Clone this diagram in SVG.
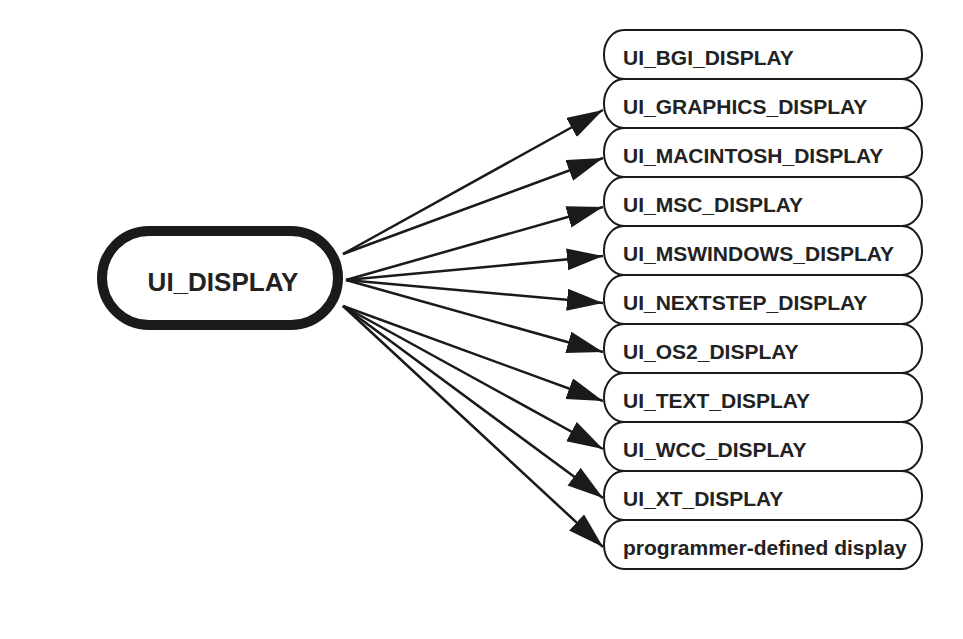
<svg xmlns="http://www.w3.org/2000/svg" width="963" height="639" viewBox="0 0 963 639">
<style>
.box{fill:#fff;stroke:#1a1a1a;stroke-width:2}
.lbl{font-family:"Liberation Sans",Arial,sans-serif;font-weight:bold;font-size:21px;fill:#222}
.main{fill:#fff;stroke:#1a1a1a;stroke-width:10}
.mlbl{font-family:"Liberation Sans",Arial,sans-serif;font-weight:bold;font-size:26px;fill:#222}
.edge{stroke:#1a1a1a;stroke-width:2.5;fill:none;marker-end:url(#ah)}
</style>
<defs>
<marker id="ah" markerUnits="userSpaceOnUse" markerWidth="38" markerHeight="24" refX="36" refY="11" orient="auto">
<path d="M0,0 L36,11 L0,22 Z" fill="#1a1a1a"/>
</marker>
</defs>
<rect width="963" height="639" fill="#fff"/>
<g id="connectors">
<line class="edge" x1="343" y1="254" x2="603" y2="110"/>
<line class="edge" x1="343" y1="254" x2="603" y2="158"/>
<line class="edge" x1="346" y1="280" x2="603" y2="207"/>
<line class="edge" x1="346" y1="280" x2="603" y2="256"/>
<line class="edge" x1="346" y1="280" x2="603" y2="303"/>
<line class="edge" x1="346" y1="280" x2="603" y2="352"/>
<line class="edge" x1="343" y1="306" x2="603" y2="401"/>
<line class="edge" x1="343" y1="306" x2="603" y2="449"/>
<line class="edge" x1="343" y1="306" x2="603" y2="498"/>
<line class="edge" x1="343" y1="306" x2="603" y2="547"/>
</g>
<g id="ui_display">
<rect class="main" x="102" y="231" width="236" height="94" rx="47" ry="47"/>
<text class="mlbl" x="223" y="291" text-anchor="middle">UI_DISPLAY</text>
</g>
<g id="bgi"><rect class="box" x="604" y="30" width="318" height="49" rx="20" ry="24"/><text class="lbl" x="623" y="65">UI_BGI_DISPLAY</text></g>
<g id="graphics"><rect class="box" x="604" y="79" width="318" height="49" rx="20" ry="24"/><text class="lbl" x="623" y="114">UI_GRAPHICS_DISPLAY</text></g>
<g id="macintosh"><rect class="box" x="604" y="128" width="318" height="49" rx="20" ry="24"/><text class="lbl" x="623" y="163">UI_MACINTOSH_DISPLAY</text></g>
<g id="msc"><rect class="box" x="604" y="177" width="318" height="49" rx="20" ry="24"/><text class="lbl" x="623" y="212">UI_MSC_DISPLAY</text></g>
<g id="mswindows"><rect class="box" x="604" y="226" width="318" height="49" rx="20" ry="24"/><text class="lbl" x="623" y="261">UI_MSWINDOWS_DISPLAY</text></g>
<g id="nextstep"><rect class="box" x="604" y="275" width="318" height="49" rx="20" ry="24"/><text class="lbl" x="623" y="310">UI_NEXTSTEP_DISPLAY</text></g>
<g id="os2"><rect class="box" x="604" y="324" width="318" height="49" rx="20" ry="24"/><text class="lbl" x="623" y="359">UI_OS2_DISPLAY</text></g>
<g id="text"><rect class="box" x="604" y="373" width="318" height="49" rx="20" ry="24"/><text class="lbl" x="623" y="408">UI_TEXT_DISPLAY</text></g>
<g id="wcc"><rect class="box" x="604" y="422" width="318" height="49" rx="20" ry="24"/><text class="lbl" x="623" y="457">UI_WCC_DISPLAY</text></g>
<g id="xt"><rect class="box" x="604" y="471" width="318" height="49" rx="20" ry="24"/><text class="lbl" x="623" y="506">UI_XT_DISPLAY</text></g>
<g id="programmer"><rect class="box" x="604" y="520" width="318" height="49" rx="20" ry="24"/><text class="lbl" x="623" y="555">programmer-defined display</text></g>
</svg>
